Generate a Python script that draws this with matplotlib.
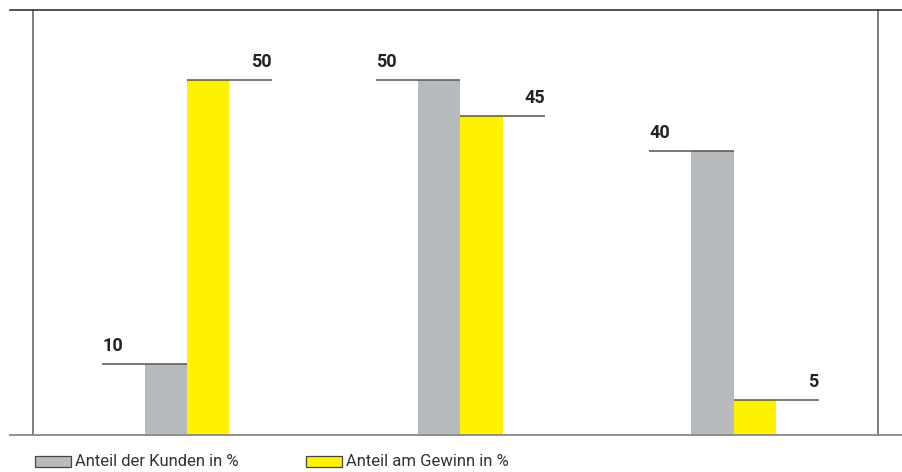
import matplotlib
matplotlib.use("Agg")
import matplotlib.pyplot as plt
from matplotlib.lines import Line2D
from matplotlib.patches import Rectangle
import numpy as np

# ─── Daten ────────────────────────────────────────────────────────────────────
gruppen = ["A", "B", "C"]
kunden  = [10, 50, 40]   # Anteil der Kunden in %
gewinn  = [50, 45, 5]    # Anteil am Gewinn in %
legende = ["Anteil der Kunden in %", "Anteil am Gewinn in %"]

GRAU = "#b8bbbe"
GELB = "#fff200"
LINIE = "#555555"
FONT = ["Roboto", "DejaVu Sans"]
plt.rcParams["font.family"] = FONT

fig = plt.figure(figsize=(9.03, 4.72), dpi=100)
ax = fig.add_axes([33 / 903, 37 / 472, 845 / 903, 425.5 / 472])

x = np.arange(len(gruppen))
w = 0.155

ax.bar(x - w / 2, kunden, width=w, color=GRAU, linewidth=0)
ax.bar(x + w / 2, gewinn, width=w, color=GELB, linewidth=0)

# Wert-Beschriftungen mit Führungslinien
for xi, k, g in zip(x, kunden, gewinn):
    x0 = xi - w - w
    ax.plot([x0, xi], [k, k], color=LINIE, lw=1.1, solid_capstyle="butt")
    ax.annotate(str(k), (x0, k), xytext=(0, 6.5), textcoords="offset points",
                ha="left", va="bottom", fontsize=13, fontweight="bold",
                color="#222222")
    x1 = xi + w + w
    ax.plot([xi, x1], [g, g], color=LINIE, lw=1.1, solid_capstyle="butt")
    ax.annotate(str(g), (x1, g), xytext=(0, 6.5), textcoords="offset points",
                ha="right", va="bottom", fontsize=13, fontweight="bold",
                color="#222222")

ax.set_xlim(-0.563, 2.527)
ax.set_ylim(0, 60)
ax.set_xticks([])
ax.set_yticks([])
for s in ["top", "bottom"]:
    ax.spines[s].set_visible(False)
for s in ["left", "right"]:
    ax.spines[s].set_color("#666666")
    ax.spines[s].set_linewidth(1.2)

# Horizontale Rahmenlinien über die ganze Breite
fig.add_artist(Line2D([10 / 903, 1], [1 - 9.5 / 472] * 2, color="#333333", lw=1.2))
fig.add_artist(Line2D([10 / 903, 1], [37 / 472] * 2, color="#888888", lw=1.3))

# Legende
for (px, tx), farbe, txt in zip([(35, 75), (306, 346)], [GRAU, GELB], legende):
    fig.add_artist(Rectangle((px / 903, 5.5 / 472), 36 / 903, 11 / 472,
                             facecolor=farbe, edgecolor="#444444", lw=0.9))
    fig.text(tx / 903, 11 / 472, txt, ha="left", va="center", fontsize=12,
             color="#333333")

plt.savefig("out.png", dpi=100)
plt.close()
